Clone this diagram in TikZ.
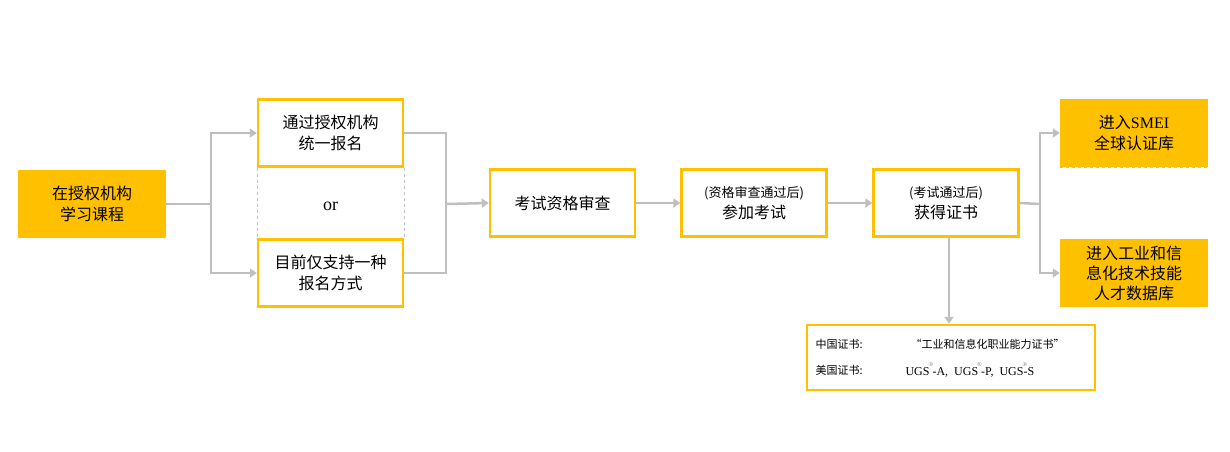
\documentclass[tikz,border=0pt]{standalone}
\usepackage{fontspec}
\setmainfont{Liberation Serif}
\newfontfamily\cjk{Noto Sans CJK SC}
\usetikzlibrary{arrows.meta}
\definecolor{gold}{HTML}{FFC000}
\definecolor{lgray}{HTML}{BFBFBF}
\begin{document}
\begin{tikzpicture}[x=1pt,y=-1pt,
  fbox/.style={fill=gold,draw=none,minimum width=148pt,minimum height=68pt,align=center,font=\fontsize{16}{21}\selectfont\cjk},
  obox/.style={fill=white,draw=gold,line width=2.5pt,minimum width=145pt,minimum height=67pt,align=center,font=\fontsize{16}{21}\selectfont\cjk},
  conn/.style={draw=lgray,line width=2.5pt},
  arr/.style={conn,-{Triangle[length=7pt,width=9pt]}}]
\useasboundingbox (0,0) rectangle (1230,451);
\node[fbox] (A) at (92,204) {在授权机构\\学习课程};
\node[obox] (B1) at (330.5,133) {通过授权机构\\统一报名};
\node[obox] (B2) at (330.5,273) {目前仅支持一种\\报名方式};
\draw[lgray,dashed,line width=0.5pt] (B1.south west) -- (B2.north west) (B1.south east) -- (B2.north east);
\node[font=\fontsize{18}{20}\selectfont] (or) at (330.5,206) {or};
\node[obox] (C) at (562.5,203) {考试资格审查};
\node[obox] (D) at (754,203) {{\fontsize{13}{18}\selectfont (资格审查通过后)}\\参加考试};
\node[obox] (E) at (946,203) {{\fontsize{13}{18}\selectfont (考试通过后)}\\获得证书};
\node[fbox] (F1) at (1134,133) {进入{\rmfamily SMEI}\\全球认证库};
\draw[lgray,dashed,line width=0.6pt] (F1.south west) -- (F1.south east);
\node[fbox,font=\fontsize{16}{20}\selectfont\cjk] (F2) at (1134,273) {进入工业和信\\息化技术技能\\人才数据库};
\node[draw=gold,line width=2.5pt,minimum width=288pt,minimum height=65pt,inner sep=0pt] (G) at (951,357.5) {};
\node[anchor=west,font=\fontsize{11}{13}\selectfont\cjk] (g1) at (812,344) {中国证书:};
\node[anchor=west,font=\fontsize{11}{13}\selectfont\cjk] (g2) at (812,370) {美国证书:};
\node[anchor=west,font=\fontsize{11}{13}\selectfont\cjk] (g3) at (907,344) {“工业和信息化职业能力证书”};
\node[anchor=west,font=\fontsize{12}{13}\selectfont] (g4) at (902,370) {UGS\raisebox{9pt}{\makebox[0pt][l]{\hspace{-1pt}\fontsize{6}{6}\selectfont\textcolor{gray}{®}}}\hspace{3pt}-A,\hspace{6pt}UGS\raisebox{9pt}{\makebox[0pt][l]{\hspace{-1pt}\fontsize{6}{6}\selectfont\textcolor{gray}{®}}}\hspace{3pt}-P,\hspace{6pt}UGS\raisebox{9pt}{\makebox[0pt][l]{\hspace{-1pt}\fontsize{6}{6}\selectfont\textcolor{gray}{®}}}-S};
\coordinate (j1) at (211,204);
\coordinate (j2) at (446,204);
\coordinate (j3) at (1040,204);
\draw[conn] (A.east) -- (j1);
\draw[arr] (j1) |- (B1.west);
\draw[arr] (j1) |- (B2.west);
\draw[conn] (B1.east) -| (j2);
\draw[conn] (B2.east) -| (j2);
\draw[arr] (j2) -- (C.west);
\draw[arr] (C.east) -- (D.west);
\draw[arr] (D.east) -- (E.west);
\draw[conn] (E.east) -- (j3);
\draw[arr] (j3) |- (F1.west);
\draw[arr] (j3) |- (F2.west);
\draw[arr] (E.south -| 949,0) -- (G.north -| 949,0);
\end{tikzpicture}
\end{document}
